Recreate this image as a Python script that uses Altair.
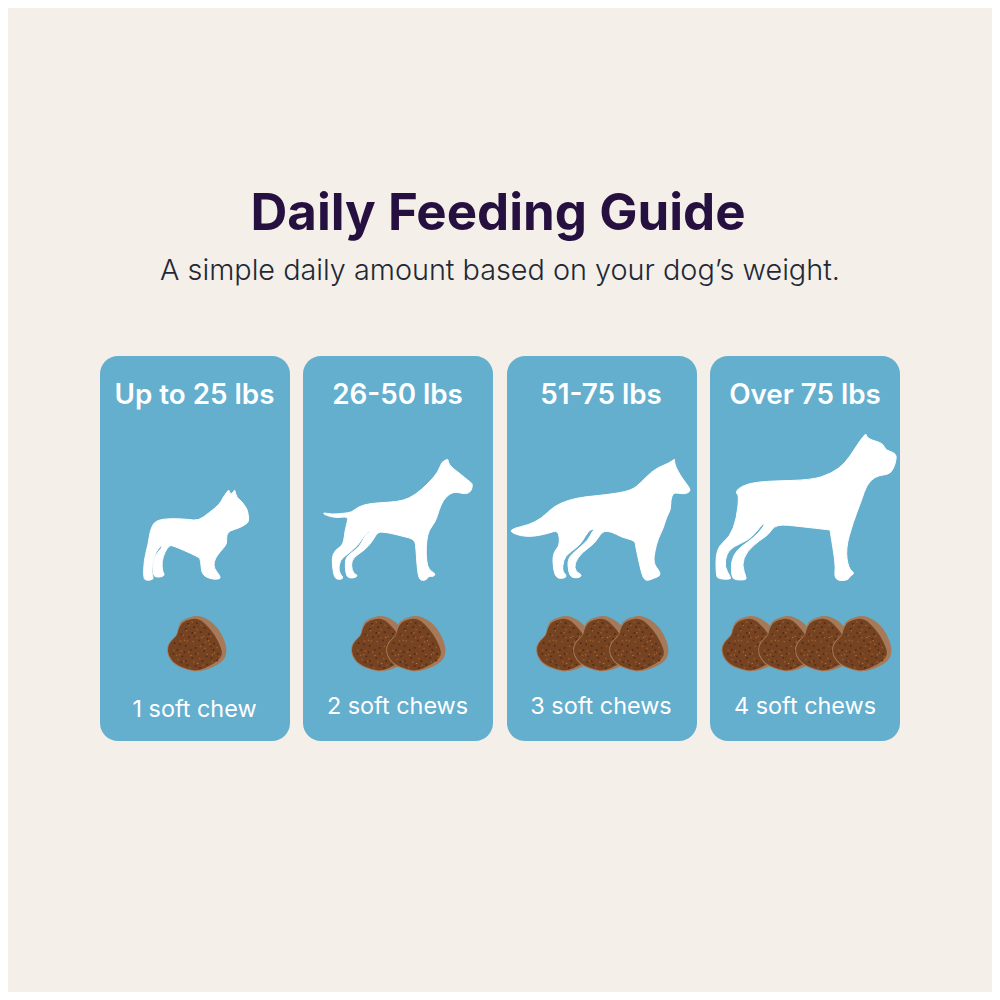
import pandas as pd
import altair as alt

# cards
card_left = [100, 303, 507, 710]
card_right = [290, 493, 697, 900]
card_top = [356, 356, 356, 356]
card_bottom = [741, 741, 741, 741]
card_center = [194.5, 397.5, 601, 805]
weights = ['Up to 25 lbs', '26-50 lbs', '51-75 lbs', 'Over 75 lbs']
doses = ['1 soft chew', '2 soft chews', '3 soft chews', '4 soft chews']
dose_y = [717, 714, 714, 714]

# chew centres, one list per card
chew_x = [[196.5], [380.5, 415.5], [565.5, 602.5, 638.5], [751, 787.5, 824.5, 861.5]]
chew_y = 643

BG = '#F4EFE8'
CARD = '#64AECE'

# silhouettes are traced at 3x, so size 4/9 draws them back at 1x
TRACE_SIZE = 4 / 9

# origin of each trace in the picture
dog_x = [130, 315, 505, 705]
dog_y = [480, 450, 450, 425]

dog1 = [(296,30),(296,30),(303,45),(314,30),(314,30),(320,52),(333,62),(345,78),(352,90),(354,100),(357,122),(350,132),
        (325,145),(300,152),(289,165),(291,190),(280,205),(262,225),(252,245),(252,265),(272,290),(268,298),(240,297),
        (215,283),(212,240),(207,232),(160,210),(125,196),(117,198),(105,215),(95,245),(98,275),(103,282),(100,290),
        (78,292),(70,285),(68,250),(78,222),(100,198),(92,198),(78,215),(66,250),(66,285),(72,298),(50,302),(40,295),
        (42,240),(55,190),(60,155),(70,130),(85,120),(120,115),(175,118),(205,122),(235,100),(270,72),(280,50)]

dog2 = [(398,28),(398,28),(403,45),(418,58),(440,75),(458,90),(472,100),(472,112),(465,128),(448,132),(425,126),(405,130),
        (385,150),(372,180),(362,215),(342,240),(335,270),(333,310),(337,350),(350,365),(362,372),(355,380),(340,378),
        (335,390),(318,392),(310,380),(306,345),(303,300),(300,268),(260,258),(220,248),(188,245),(175,270),(150,300),
        (115,322),(108,345),(115,370),(128,375),(122,383),(100,385),(92,370),(90,330),(100,315),(135,290),(150,255),
        (170,243),(160,245),(145,260),(130,285),(95,315),(75,330),(70,365),(85,382),(80,388),(62,388),(55,370),(50,325),
        (60,300),(85,285),(90,240),(100,205),(90,200),(70,203),(45,200),(25,192),(27,188),(50,193),(85,190),(110,187),
        (130,170),(165,160),(220,157),(265,152),(300,135),(340,100),(370,65),(380,35)]

dog3 = [(508,28),(508,28),(510,45),(520,65),(532,85),(555,115),(555,125),(540,132),(520,130),(505,128),(497,150),(497,180),
        (485,200),(475,235),(460,265),(450,300),(445,340),(465,365),(465,378),(445,385),(430,392),(415,388),(405,350),
        (392,290),(390,272),(350,262),(320,245),(292,243),(270,280),(230,308),(208,340),(212,365),(228,372),(228,382),
        (200,385),(190,365),(188,325),(215,300),(250,270),(262,243),(270,238),(255,238),(240,260),(225,285),(190,310),
        (175,330),(172,365),(185,375),(180,385),(155,385),(145,360),(143,310),(165,285),(160,240),(130,250),(85,260),
        (45,258),(15,245),(25,235),(70,225),(110,205),(145,170),(190,150),(240,140),(300,135),(380,122),(410,95),
        (440,65),(465,50),(490,40)]

dog4 = [(482,27),(482,27),(490,42),(535,55),(540,75),(575,85),(572,115),(558,145),(535,150),(510,155),(485,180),(470,225),
        (445,290),(422,370),(430,430),(450,445),(435,453),(430,465),(400,468),(388,455),(392,420),(375,315),(375,315),
        (290,305),(212,297),(190,330),(165,345),(125,380),(110,420),(125,460),(120,465),(90,465),(80,455),(78,410),
        (95,375),(130,350),(160,325),(180,297),(172,297),(155,320),(130,345),(85,365),(65,385),(58,425),(78,458),
        (75,463),(40,462),(33,450),(33,370),(75,335),(95,280),(102,212),(93,205),(97,192),(130,175),(190,168),
        (320,165),(380,145),(420,115),(450,70),(470,40)]

# chew traced around its own centre
chew_rim = [(-57,-41),(-47,-66),(-22,-78),(5,-83),(35,-71),(65,-46),(85,-6),(92,26),(82,53),(50,73),(10,86),(-25,83),
            (-67,66),(-87,38),(-89,11),(-77,-9),(-59,-24)]
chew_body = [(-55,-39),(-44,-62),(-20,-72),(6,-74),(28,-56),(55,-25),(74,15),(78,36),(62,56),(36,70),(8,83),(-25,80),
             (-65,63),(-85,36),(-86,11),(-74,-8),(-57,-24)]
speck_dark = [(-35,-45),(-10,-50),(10,-35),(-25,-20),(5,-10),(30,-15),(48,18),(20,22),(-5,12),(-35,6),(-60,18),
              (-45,38),(-15,42),(15,52),(42,42),(-30,63),(-5,66),(-68,-2),(50,0),(-15,-33),(-48,-28),(-2,-62),
              (22,-48),(35,-30),(-8,-22),(18,2),(62,30),(-20,18),(-52,2),(-72,30),(-35,52),(-5,30),(28,38),(30,62),
              (-48,55),(8,72),(60,50),(-28,-60),(40,8),(-38,25)]
speck_orange = [(-25,-55),(0,-42),(20,-22),(-42,-25),(-12,-6),(38,2),(10,8),(-48,22),(-25,25),(2,30),(30,32),
                (52,28),(-40,53),(-10,55),(18,65),(-70,20),(-50,-8),(-15,-65),(12,-55),(40,-22),(60,12),(-30,-8),
                (-62,35),(-22,72),(45,55),(-2,-18),(25,-5),(-58,48),(8,45),(66,38)]
speck_light = [(-38,-10),(-6,-32),(24,14),(-18,36),(14,-18),(46,34),(-52,34),(-32,-38),(2,60),(34,-8)]


def outline(points):
    # quadratic curves through the midpoints, a doubled point stays sharp
    n = len(points)
    mid = lambda a, b: ((a[0] + b[0]) / 2, (a[1] + b[1]) / 2)
    start = mid(points[-1], points[0])
    path = 'M%g,%g' % start
    for i in range(n):
        m = mid(points[i], points[(i + 1) % n])
        path += 'Q%g,%g,%g,%g' % (points[i][0], points[i][1], m[0], m[1])
    return path + 'Z'


def specks(points, d):
    return ''.join('M%g,%gh%gv%gh%gZ' % (x, y, d, d, -d) for x, y in points)


X = alt.Scale(domain=[8, 992])
Y = alt.Scale(domain=[992, 8])

cards = pd.DataFrame({'left': card_left, 'right': card_right, 'top': card_top, 'bottom': card_bottom})
card_layer = alt.Chart(cards).mark_rect(cornerRadius=18, color=CARD).encode(
    x=alt.X('left:Q', scale=X, axis=None),
    x2='right:Q',
    y=alt.Y('top:Q', scale=Y, axis=None),
    y2='bottom:Q'
)

# a thin stroke makes up for what the curve smoothing takes off the outline
dogs = pd.DataFrame({'x': dog_x, 'y': dog_y, 'path': [outline(d) for d in [dog1, dog2, dog3, dog4]]})
dog_layer = alt.Chart(dogs).mark_point(filled=True, opacity=1, fill='white', stroke='white', strokeWidth=1,
                                       size=TRACE_SIZE).encode(
    x=alt.X('x:Q', scale=X, axis=None),
    y=alt.Y('y:Q', scale=Y, axis=None),
    shape=alt.Shape('path:N', scale=None)
)

# every chew is drawn whole before the next one, the right one sits on top
rows = []
for xs in chew_x:
    for x in xs:
        rows.append({'x': x, 'y': chew_y, 'path': outline(chew_rim), 'fill': '#A67A58'})
        rows.append({'x': x, 'y': chew_y, 'path': outline(chew_body), 'fill': '#754322'})
        rows.append({'x': x, 'y': chew_y, 'path': specks(speck_dark, 5), 'fill': '#532D15'})
        rows.append({'x': x, 'y': chew_y, 'path': specks(speck_orange, 4), 'fill': '#A85F28'})
        rows.append({'x': x, 'y': chew_y, 'path': specks(speck_light, 3), 'fill': '#C08347'})
chews = pd.DataFrame(rows)
chews['seq'] = range(len(chews))
chew_layer = alt.Chart(chews).mark_point(filled=True, opacity=1, strokeWidth=0, size=TRACE_SIZE).encode(
    x=alt.X('x:Q', scale=X, axis=None),
    y=alt.Y('y:Q', scale=Y, axis=None),
    shape=alt.Shape('path:N', scale=None),
    color=alt.Color('fill:N', scale=None),
    order=alt.Order('seq:Q')
)


def text_layer(frame, size, weight, color, font='Inter'):
    return alt.Chart(frame).mark_text(font=font, fontSize=size, fontWeight=weight, color=color,
                                      align='center', baseline='alphabetic').encode(
        x=alt.X('x:Q', scale=X, axis=None),
        y=alt.Y('y:Q', scale=Y, axis=None),
        text='label:N'
    )


title = text_layer(pd.DataFrame({'x': [498], 'y': [230], 'label': ['Daily Feeding Guide']}), 51, 700, '#26103F')
subtitle = text_layer(pd.DataFrame({'x': [500], 'y': [280], 'label': ['A simple daily amount based on your dog\u2019s weight.']}),
                      28.8, 300, '#1F2937')
weight_text = text_layer(pd.DataFrame({'x': card_center, 'y': [404] * 4, 'label': weights}), 27.8, 600, 'white')
dose_text = text_layer(pd.DataFrame({'x': card_center, 'y': dose_y, 'label': doses}), 23.4, 400, 'white')

chart = alt.layer(card_layer, dog_layer, chew_layer, title, subtitle, weight_text, dose_text).properties(
    width=984,
    height=984,
    padding=0,
    background=BG,
    autosize=alt.AutoSizeParams(type='none')
).configure_view(stroke=None)

chart.save("out.html", embed_options={"renderer": "svg", "actions": False})
